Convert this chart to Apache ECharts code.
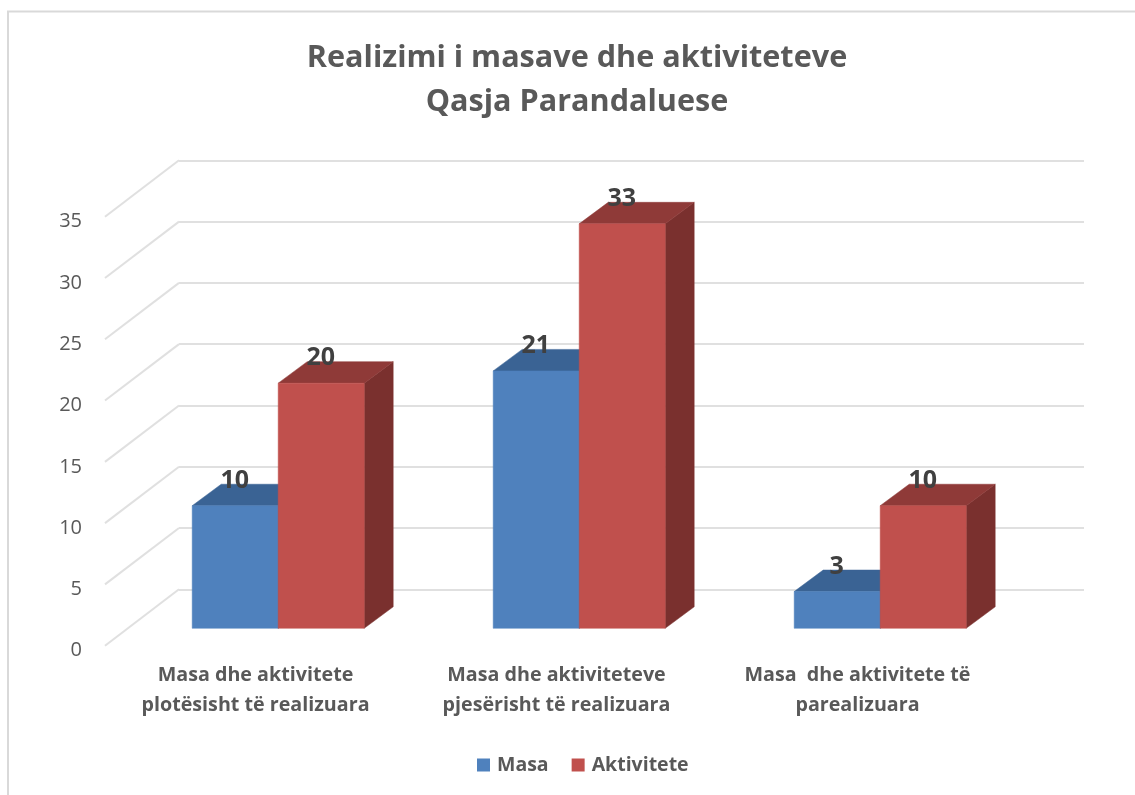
<!DOCTYPE html>
<html>
<head>
<meta charset="utf-8">
<style>html,body{margin:0;padding:0;background:#fff}#chart{width:1135px;height:795px}</style>
<script src="https://cdn.jsdelivr.net/npm/echarts@6/dist/echarts.min.js"></script>
</head>
<body>
<div id="chart"></div>
<script>
const categories = ['Masa dhe aktivitete\nplotësisht të realizuara', 'Masa dhe aktiviteteve\npjesërisht të realizuara', 'Masa  dhe aktivitete të\nparealizuara'];
const masa = [10, 21, 3];
const aktivitete = [20, 33, 10];
const yTicks = [0, 5, 10, 15, 20, 25, 30, 35];
const titleText = 'Realizimi i masave dhe aktiviteteve\nQasja Parandaluese';

const FONT = '"Open Sans", sans-serif';
const GREY = '#595959';
const WALL_DX = 74, WALL_DY = 56.4;   // front plane -> back wall
const FLOOR_DX = 22.7, FLOOR_DY = 17.4; // front plane -> bar front
const BAR_DX = 29, BAR_DY = 21.5;     // bar depth
const BAR_RATIO = 86 / 301;

function poly(points, fill) {
  return { type: 'polygon', shape: { points }, style: { fill, stroke: fill, lineWidth: 0.5 } };
}
function barRenderer(side, colors) {
  return function (params, api) {
    const i = api.value(0), v = api.value(1);
    const top = api.coord([i, v]), base = api.coord([i, 0]);
    const w = api.size([1, 0])[0] * BAR_RATIO;
    const x0 = top[0] + FLOOR_DX + (side < 0 ? -w : 0), x1 = x0 + w;
    const yT = top[1] - FLOOR_DY, yB = base[1] - FLOOR_DY;
    return {
      type: 'group',
      children: [
        poly([[x1, yT], [x1 + BAR_DX, yT - BAR_DY], [x1 + BAR_DX, yB - BAR_DY], [x1, yB]], colors.side),
        poly([[x0, yT], [x0 + BAR_DX, yT - BAR_DY], [x1 + BAR_DX, yT - BAR_DY], [x1, yT]], colors.top),
        poly([[x0, yT], [x1, yT], [x1, yB], [x0, yB]], colors.front),
        {
          type: 'text', z2: 100,
          style: {
            text: String(v), x: (x0 + x1) / 2 - 0.5, y: yT - 25,
            align: 'center', verticalAlign: 'middle',
            font: 'bold 25px ' + FONT, fill: '#404040'
          }
        }
      ]
    };
  };
}
function wallRenderer(params, api) {
  const p = api.coord([0, api.value(1)]);
  const x = params.coordSys.x;
  return {
    type: 'line',
    shape: { x1: x, y1: p[1], x2: x + WALL_DX, y2: p[1] - WALL_DY },
    style: { stroke: '#E0E0E0', lineWidth: 2 }
  };
}

const chart = echarts.init(document.getElementById('chart'), null, { renderer: 'canvas' });
chart.setOption({
  animation: false,
  backgroundColor: '#fff',
  title: {
    text: titleText, left: 572, top: 31, textAlign: 'center',
    textStyle: { fontFamily: FONT, fontWeight: 'bold', fontSize: 30.6, lineHeight: 44, color: GREY }
  },
  legend: {
    data: ['Masa', 'Aktivitete'], left: 472, top: 750, icon: 'rect',
    itemWidth: 13, itemHeight: 13, itemGap: 23,
    textStyle: { fontFamily: FONT, fontWeight: 'bold', fontSize: 19.5, color: GREY, padding: [0, 0, 0, 2] }
  },
  graphic: [{
    type: 'polyline', silent: true,
    shape: { points: [[8, 795], [8, 11.5], [1135, 11.5]] },
    style: { stroke: '#D9D9D9', lineWidth: 2, fill: null }
  }],
  grid: [
    { left: 105, top: 216.7, width: 903, height: 429 },
    { left: 179, top: 160.3, width: 905, height: 429 }
  ],
  xAxis: [
    {
      type: 'category', gridIndex: 0, data: categories,
      axisLine: { show: false }, axisTick: { show: false },
      axisLabel: { margin: 15, interval: 0, fontFamily: FONT, fontWeight: 'bold', fontSize: 19.7, lineHeight: 30, color: GREY }
    },
    { type: 'category', gridIndex: 1, data: categories, show: false }
  ],
  yAxis: [
    {
      type: 'value', gridIndex: 0, min: 0, max: 35, interval: 5,
      axisLine: { show: false }, axisTick: { show: false }, splitLine: { show: false },
      axisLabel: { margin: 23, fontFamily: FONT, fontSize: 20, color: GREY, verticalAlign: 'top', lineHeight: 10 }
    },
    {
      type: 'value', gridIndex: 1, min: 0, max: 35, interval: 5,
      axisLine: { show: false }, axisTick: { show: false }, axisLabel: { show: false },
      splitLine: { show: true, lineStyle: { color: '#E0E0E0', width: 2 } }
    }
  ],
  series: [
    {
      type: 'custom', name: 'wall', xAxisIndex: 0, yAxisIndex: 0, silent: true, clip: false, z: 1,
      data: yTicks.map(t => [0, t]), encode: { x: 0, y: 1 }, renderItem: wallRenderer
    },
    {
      type: 'custom', name: 'Masa', xAxisIndex: 0, yAxisIndex: 0, clip: false, z: 3,
      itemStyle: { color: '#4F81BD' },
      data: masa.map((v, i) => [i, v]), encode: { x: 0, y: 1 },
      renderItem: barRenderer(-1, { front: '#4F81BD', top: '#3A6394', side: '#2F4F77' })
    },
    {
      type: 'custom', name: 'Aktivitete', xAxisIndex: 0, yAxisIndex: 0, clip: false, z: 4,
      itemStyle: { color: '#C0504D' },
      data: aktivitete.map((v, i) => [i, v]), encode: { x: 0, y: 1 },
      renderItem: barRenderer(1, { front: '#C0504D', top: '#8F3A38', side: '#7A302E' })
    }
  ]
});
</script>
</body>
</html>
